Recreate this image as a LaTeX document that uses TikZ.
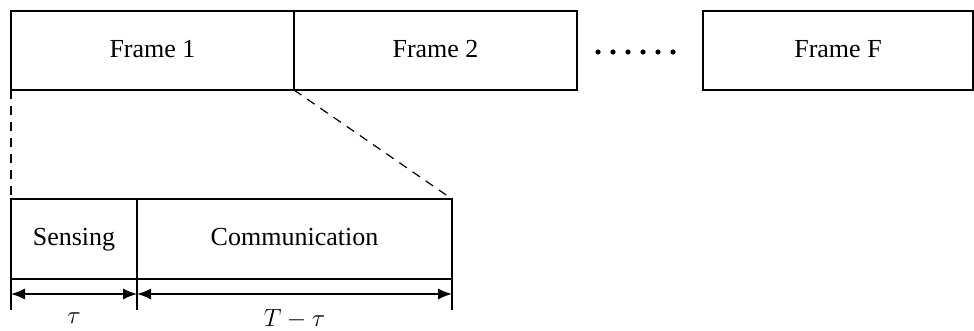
\documentclass[tikz,border=0pt]{standalone}
\usepackage{fontspec}
\setmainfont{Liberation Serif}
\usetikzlibrary{arrows.meta}
\tikzset{
  slot/.style={draw,line width=1.4pt,rectangle,inner sep=0pt,outer sep=0pt,
    minimum height=79pt,text height=18pt,text depth=5pt,font=\fontsize{26}{30}\selectfont},
  zoomline/.style={dashed,line width=1.2pt,dash pattern=on 9pt off 7pt},
  span/.style={line width=1.4pt,{Latex[length=14pt,width=11pt]}-{Latex[length=14pt,width=11pt]}}
}
\begin{document}
\begin{tikzpicture}[x=1pt,y=-1pt]
                \useasboundingbox (0,0) rectangle (974,330);
                % frames
                \node[slot,minimum width=283pt] (f1) at (152.5,50.5) {Frame 1};
                \node[slot,minimum width=283pt] (f2) at (435.5,50.5) {Frame 2};
                \node[slot,minimum width=270pt] (fF) at (838,50.5) {Frame F};
                \foreach \i in {0,...,5}
                    \fill (598+15*\i,52) circle (2.6);
                % zoomed frame
                \node[slot,minimum width=126pt,minimum height=80pt] (sens) at (74,239) {Sensing};
                \node[slot,minimum width=315pt,minimum height=80pt] (comm) at (294.5,239) {Communication};
                \draw[zoomline] (f1.south west)--(sens.north west);
                \draw[zoomline] (f1.south east)--(comm.north east);
                % durations
                \coordinate (t0) at ([yshift=-31pt]sens.south west);
                \coordinate (t1) at ([yshift=-31pt]sens.south east);
                \coordinate (t2) at ([yshift=-31pt]comm.south east);
                \draw[line width=1.4pt] (sens.south west)--(t0) (sens.south east)--(t1) (comm.south east)--(t2);
                \draw[span] ([yshift=-15pt]sens.south west)--([yshift=-15pt]sens.south east) node[midway,below=15pt,font=\fontsize{29}{32}\selectfont] (tau) {$\tau$};
                \draw[span] ([yshift=-15pt]comm.south west)--([yshift=-15pt]comm.south east) node[midway,below=11pt,font=\fontsize{29}{32}\selectfont] (rest) {$T-\tau$};
\end{tikzpicture}
\end{document}
